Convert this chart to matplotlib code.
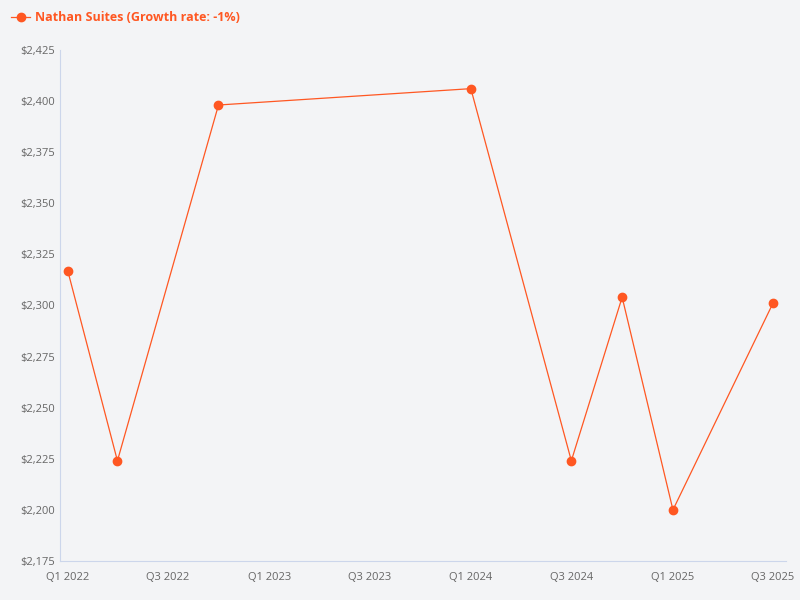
import matplotlib
matplotlib.use("Agg")
import matplotlib.pyplot as plt
import matplotlib.dates as mdates
import matplotlib.ticker as mticker
import pandas as pd

dates = ["2022-01-01", "2022-04-01", "2022-10-01", "2024-01-01", "2024-07-01", "2024-10-01", "2025-01-01", "2025-07-01"]
values = [2317, 2224, 2398, 2406, 2224, 2304, 2200, 2301]
tick_dates = ["2022-01-01", "2022-07-01", "2023-01-01", "2023-07-01", "2024-01-01", "2024-07-01", "2025-01-01", "2025-07-01"]
tick_labels = ["Q1 2022", "Q3 2022", "Q1 2023", "Q3 2023", "Q1 2024", "Q3 2024", "Q1 2025", "Q3 2025"]

bg = "#f3f4f6"
color = "#ff5722"
plt.rcParams['font.family'] = ['Open Sans', 'DejaVu Sans']
fig = plt.figure(figsize=(8, 6), dpi=100, facecolor=bg)
ax = fig.add_axes([0.075, 0.065, 0.907, 0.852], facecolor=bg)
x = pd.to_datetime(dates)
ax.plot(x, values, color=color, lw=0.9, marker="o", ms=6, label="Nathan Suites (Growth rate: -1%)")
ax.set_ylim(2175, 2425)
ax.yaxis.set_major_locator(mticker.MultipleLocator(25))
ax.yaxis.set_major_formatter(mticker.FuncFormatter(lambda v, p: f"${v:,.0f}"))
ax.set_xticks(pd.to_datetime(tick_dates))
ax.set_xticklabels(tick_labels)
ax.set_xlim(pd.Timestamp("2021-12-18"), pd.Timestamp("2025-07-24"))
for s in ["top", "right"]:
    ax.spines[s].set_visible(False)
ax.spines["left"].set_color("#ccd6eb")
ax.spines["bottom"].set_color("#ccd6eb")
ax.tick_params(colors="#666666", labelsize=8, length=0)
ax.tick_params(axis="x", pad=8)
leg = fig.legend(loc="upper left", bbox_to_anchor=(0.0, 1.0), frameon=False, prop={"weight": "bold", "size": 9}, handlelength=1.5, handletextpad=0.4)
for t in leg.get_texts():
    t.set_color(color)
fig.savefig("out.png", dpi=100, facecolor=bg)
